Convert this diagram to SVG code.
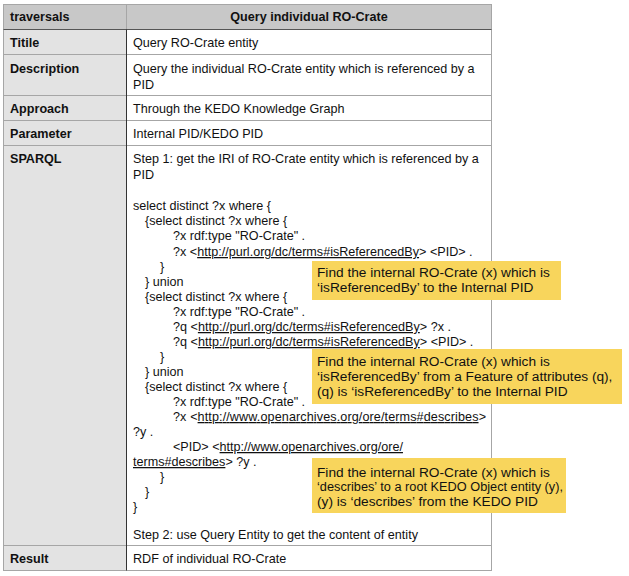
<svg xmlns="http://www.w3.org/2000/svg" width="629" height="576" viewBox="0 0 629 576">
<style>
text{font-family:"Liberation Sans",Arial,sans-serif;font-size:12.6px;fill:#111}
.b{font-weight:bold}
.u{text-decoration:underline}
.grid{stroke:#a6a6a6;stroke-width:1;fill:none}
.note rect{fill:#f8d55c}
.note text{font-size:13.7px}
</style>
<rect x="0" y="0" width="629" height="576" fill="#fff"/>
<g id="table">
<rect x="3.5" y="4.5" width="488" height="25" fill="#c8c8c8"/>
<rect x="3.5" y="29.5" width="123" height="541" fill="#e3e3e3"/>
<rect x="126.5" y="29.5" width="365" height="541" fill="#fff"/>
<rect class="grid" x="3.5" y="4.5" width="488" height="566"/>
<line class="grid" x1="3.5" y1="54.5" x2="491.5" y2="54.5"/>
<line class="grid" x1="3.5" y1="95.5" x2="491.5" y2="95.5"/>
<line class="grid" x1="3.5" y1="120.5" x2="491.5" y2="120.5"/>
<line class="grid" x1="3.5" y1="145.5" x2="491.5" y2="145.5"/>
<line class="grid" x1="3.5" y1="545.5" x2="491.5" y2="545.5"/>
<line class="grid" x1="126.5" y1="4.5" x2="126.5" y2="29.5"/>
<line x1="3.5" y1="29.5" x2="491.5" y2="29.5" stroke="#555"/>
<line x1="126.5" y1="29.5" x2="126.5" y2="570.5" stroke="#333"/>
<text class="b" x="10" y="21">traversals</text>
<text class="b" x="309" y="21" text-anchor="middle">Query individual RO-Crate</text>
<text class="b" x="10" y="47">Titile</text>
<text x="133" y="47">Query RO-Crate entity</text>
<text class="b" x="10" y="73">Description</text>
<text x="133" y="73">Query the individual RO-Crate entity which is referenced by a</text>
<text x="133" y="89">PID</text>
<text class="b" x="10" y="113">Approach</text>
<text x="133" y="113">Through the KEDO Knowledge Graph</text>
<text class="b" x="10" y="138">Parameter</text>
<text x="133" y="138">Internal PID/KEDO PID</text>
<text class="b" x="10" y="163">SPARQL</text>
<text x="133" y="163">Step 1: get the IRI of RO-Crate entity which is referenced by a</text>
<text x="133" y="179">PID</text>
<text x="133" y="210">select distinct ?x where {</text>
<text x="145" y="225">{select distinct ?x where {</text>
<text x="173" y="240">?x rdf:type "RO-Crate" .</text>
<text x="173" y="256">?x &lt;<tspan class="u">http://purl.org/dc/terms#isReferencedBy</tspan>&gt; &lt;PID&gt; .</text>
<text x="160" y="271">}</text>
<text x="145" y="286">} union</text>
<text x="145" y="301">{select distinct ?x where {</text>
<text x="173" y="316">?x rdf:type "RO-Crate" .</text>
<text x="173" y="331">?q &lt;<tspan class="u">http://purl.org/dc/terms#isReferencedBy</tspan>&gt; ?x .</text>
<text x="173" y="346">?q &lt;<tspan class="u">http://purl.org/dc/terms#isReferencedBy</tspan>&gt; &lt;PID&gt; .</text>
<text x="160" y="361">}</text>
<text x="145" y="376">} union</text>
<text x="145" y="391">{select distinct ?x where {</text>
<text x="173" y="406">?x rdf:type "RO-Crate" .</text>
<text x="173" y="421" textLength="313" lengthAdjust="spacing">?x &lt;<tspan class="u">http://www.openarchives.org/ore/terms#describes</tspan>&gt;</text>
<text x="133" y="436">?y .</text>
<text x="173" y="451">&lt;PID&gt; &lt;<tspan class="u">http://www.openarchives.org/ore/</tspan></text>
<text x="133" y="466"><tspan class="u">terms#describes</tspan>&gt; ?y .</text>
<text x="160" y="481">}</text>
<text x="145" y="496">}</text>
<text x="133" y="511">}</text>
<text x="133" y="539">Step 2: use Query Entity to get the content of entity</text>
<text class="b" x="10" y="563">Result</text>
<text x="133" y="563">RDF of individual RO-Crate</text>
</g>
<g id="note1" class="note">
<rect x="312" y="261" width="249" height="39"/>
<text x="317" y="277">Find the internal RO-Crate (x) which is</text>
<text x="317" y="292">‘isReferencedBy’ to the Internal PID</text>
</g>
<g id="note2" class="note">
<rect x="312" y="349" width="310" height="55"/>
<text x="317" y="366">Find the internal RO-Crate (x) which is</text>
<text x="317" y="381">‘isReferencedBy’ from a Feature of attributes (q),</text>
<text x="317" y="396">(q) is ‘isReferencedBy’ to the Internal PID</text>
</g>
<g id="note3" class="note">
<rect x="312" y="458" width="254" height="55"/>
<text x="317" y="477">Find the internal RO-Crate (x) which is</text>
<text x="317" y="491" textLength="246" lengthAdjust="spacingAndGlyphs">‘describes’ to a root KEDO Object entity (y),</text>
<text x="317" y="506">(y) is ‘describes’ from the KEDO PID</text>
</g>
<g id="connectors"></g>
</svg>
